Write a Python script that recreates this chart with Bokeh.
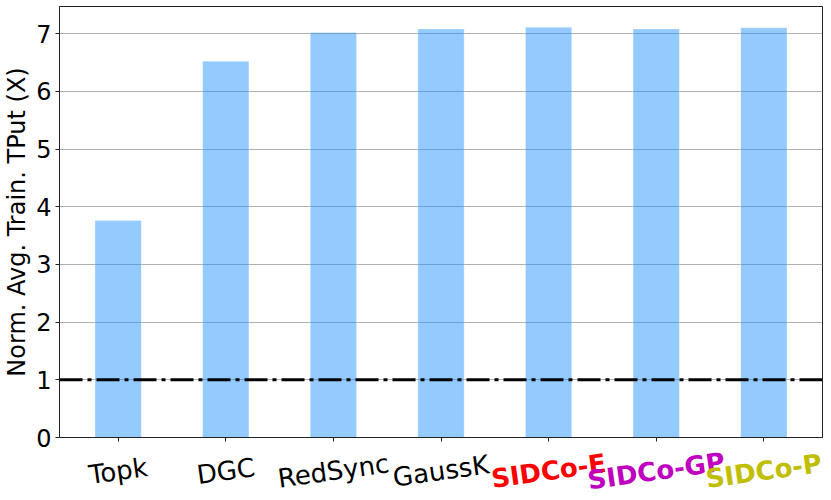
from bokeh.plotting import figure
from bokeh.layouts import column
from bokeh.models import Range1d, FixedTicker, Span, ColumnDataSource
from bokeh.core.properties import value
from bokeh.embed import file_html
from bokeh.resources import INLINE

categories = ["Topk", "DGC", "RedSync", "GaussK", "SIDCo-E", "SIDCo-GP", "SIDCo-P"]
throughput = [3.76, 6.52, 7.02, 7.08, 7.11, 7.08, 7.10]
label_colors = ["black", "black", "black", "black", "#ff0000", "#bf00bf", "#bfbf00"]
label_styles = ["normal", "normal", "normal", "normal", "bold", "bold", "bold"]
y_ticks = [0, 1, 2, 3, 4, 5, 6, 7]
baseline = 1.0

FONT = "DejaVu Sans"
xs = list(range(len(categories)))

W = 823
PAD = 0.545
x0, x1 = -PAD, len(categories) - 1 + PAD

p = figure(width=W, height=450, output_backend="svg", toolbar_location=None,
           x_range=Range1d(x0, x1), y_range=Range1d(0, 7.47),
           min_border_left=58, min_border_right=1, min_border_top=6, min_border_bottom=13)

p.vbar(x=xs, top=throughput, width=0.43, fill_color="#1e90ff", fill_alpha=0.48,
       line_color="white", line_alpha=0.3, line_width=1)

p.add_layout(Span(location=baseline, dimension="width", line_color="black",
                  line_width=3, line_dash="23 5 4 5"))

p.xaxis.ticker = FixedTicker(ticks=xs)
p.xaxis.major_label_overrides = {i: "" for i in xs}
p.xaxis.major_label_text_font_size = "0px"
p.xaxis.major_label_standoff = 0
p.xaxis.axis_label_standoff = 0
p.xaxis.major_tick_in = 0
p.xaxis.major_tick_out = 4
p.xaxis.minor_tick_line_color = None
p.xaxis.axis_line_color = "#222222"
p.xaxis.major_tick_line_color = "#222222"

p.yaxis.ticker = FixedTicker(ticks=y_ticks)
p.yaxis.major_label_text_font = FONT
p.yaxis.major_label_text_font_size = "24px"
p.yaxis.major_label_text_color = "black"
p.yaxis.major_tick_in = 0
p.yaxis.major_tick_out = 4
p.yaxis.minor_tick_line_color = None
p.yaxis.axis_line_color = "#222222"
p.yaxis.major_tick_line_color = "#222222"
p.yaxis.axis_label = "Norm. Avg. Train. TPut (X)"
p.yaxis.axis_label_text_font = FONT
p.yaxis.axis_label_text_font_size = "24px"
p.yaxis.axis_label_text_font_style = "normal"
p.yaxis.axis_label_text_color = "black"
p.yaxis.axis_label_standoff = 2
p.yaxis.major_label_standoff = 4

p.xgrid.grid_line_color = None
p.ygrid.grid_line_color = "#b0b0b0"
p.ygrid.grid_line_width = 1

p.outline_line_color = "#222222"
p.outline_line_width = 1

# label strip below (column layout aligns its frame with the main frame)
p2 = figure(width=W, height=47, output_backend="svg", toolbar_location=None,
            x_axis_location=None, y_axis_location=None,
            x_range=p.x_range, y_range=Range1d(-1, 1),
            min_border_left=58, min_border_right=1, min_border_top=0, min_border_bottom=0)
p2.grid.grid_line_color = None
p2.outline_line_color = None

src = ColumnDataSource(dict(x=xs, y=[0] * len(xs), text=categories,
                            color=label_colors, style=label_styles))
p2.text(x="x", y="y", text="text", source=src, text_color="color",
        text_font_style="style", text_font=value(FONT), text_font_size="26px",
        text_align="center", text_baseline="middle", angle=8, angle_units="deg",
        y_offset=-3)

layout = column(p, p2, spacing=0)
open("out.html", "w").write(file_html(layout, INLINE))
